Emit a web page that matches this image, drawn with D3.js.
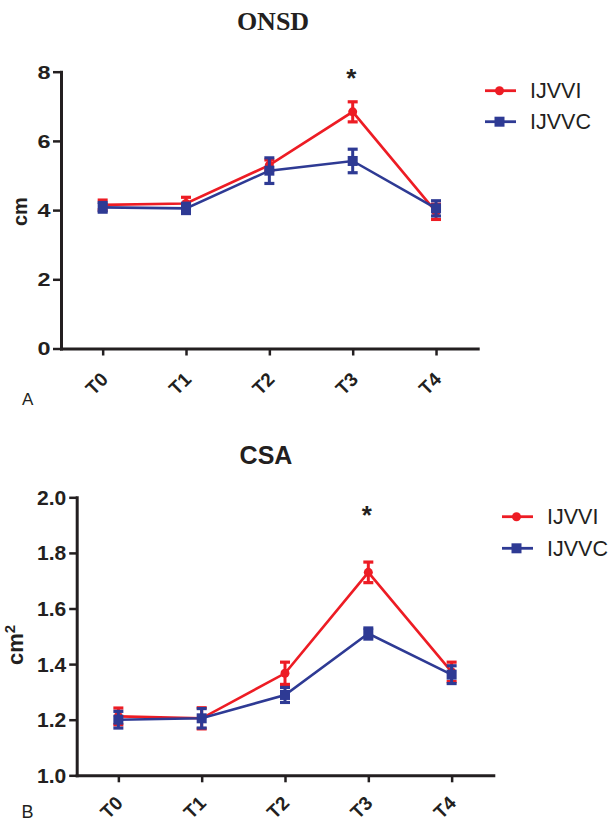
<!DOCTYPE html>
<html>
<head>
<meta charset="utf-8">
<script src="https://cdn.jsdelivr.net/npm/d3@7"></script>
<style>
  html, body { margin: 0; padding: 0; background: #fff; }
  svg { display: block; }
</style>
</head>
<body>
<svg id="chart" width="616" height="823"></svg>
<script>
// ---------- DATA ----------
const categories = ["T0", "T1", "T2", "T3", "T4"];
const seriesNames = ["IJVVI", "IJVVC"];

// Panel A: ONSD (cm)
const onsdIJVVI = [4.15, 4.19, 5.30, 6.84, 3.95];
const onsdIJVVIErr = [0.14, 0.18, 0.15, 0.29, 0.22];
const onsdIJVVC = [4.08, 4.05, 5.14, 5.42, 4.05];
const onsdIJVVCErr = [0.14, 0.15, 0.37, 0.34, 0.22];
const onsdTicks = [0, 2, 4, 6, 8];

// Panel B: CSA (cm2)
const csaIJVVI = [1.212, 1.205, 1.367, 1.730, 1.372];
const csaIJVVIErr = [0.030, 0.038, 0.040, 0.037, 0.035];
const csaIJVVC = [1.200, 1.205, 1.289, 1.510, 1.362];
const csaIJVVCErr = [0.030, 0.035, 0.027, 0.020, 0.032];
const csaTicks = [1.0, 1.2, 1.4, 1.6, 1.8, 2.0];

const significant = ["T3"];

// ---------- STYLE ----------
const RED = "#ed1c24";
const BLUE = "#2e3a94";
const INK = "#231f20";
const SANS = "'Liberation Sans', Arial, sans-serif";
const SERIF = "'Liberation Serif', 'Times New Roman', serif";

const svg = d3.select("#chart");

function drawPanel(cfg) {
  const g = svg.append("g");
  const x = d3.scalePoint().domain(categories).range(cfg.xRange).padding(0.5);
  const y = d3.scaleLinear().domain(cfg.yDomain).range(cfg.yRange);

  // title
  g.append("text")
    .attr("x", cfg.titleX).attr("y", cfg.titleY)
    .attr("text-anchor", "middle")
    .attr("font-family", cfg.titleFont)
    .attr("font-weight", "bold")
    .attr("font-size", cfg.titleSize)
    .attr("fill", INK)
    .text(cfg.title);

  // y axis
  const yAxis = g.append("g")
    .attr("transform", `translate(${cfg.xRange[0]},0)`)
    .call(d3.axisLeft(y).tickValues(cfg.ticks).tickFormat(cfg.tickFormat)
      .tickSize(cfg.yTickSize).tickSizeOuter(0).tickPadding(0));
  yAxis.select(".domain").attr("stroke", INK).attr("stroke-width", 3).attr("stroke-linecap", "square");
  yAxis.selectAll(".tick line").attr("stroke", INK).attr("stroke-width", 2.5);
  yAxis.selectAll(".tick text")
    .attr("x", 0).attr("dy", "0.36em")
    .attr("transform", `translate(${-cfg.yLabelOff},0) scale(${cfg.yStretch},1)`)
    .attr("font-family", SANS).attr("font-weight", "bold")
    .attr("font-size", cfg.yTickFont).attr("fill", INK);

  // x axis
  const xAxis = g.append("g")
    .attr("transform", `translate(0,${cfg.yRange[0]})`)
    .call(d3.axisBottom(x).tickSize(7).tickSizeOuter(0));
  xAxis.select(".domain").attr("stroke", INK).attr("stroke-width", 3).attr("stroke-linecap", "square");
  xAxis.selectAll(".tick line").attr("stroke", INK).attr("stroke-width", 2.5);
  xAxis.selectAll(".tick text")
    .attr("x", 0).attr("y", 0).attr("dy", null)
    .attr("text-anchor", "end")
    .attr("transform", `translate(${cfg.xLabelDx},${cfg.xLabelDy}) rotate(-45)`)
    .attr("font-family", SANS).attr("font-weight", "bold")
    .attr("font-size", cfg.xTickFont).attr("fill", INK);

  // y label
  const yl = g.append("text")
    .attr("transform", `translate(${cfg.yLabelX},${cfg.yLabelY}) rotate(-90)`)
    .attr("text-anchor", "start")
    .attr("font-family", SANS).attr("font-weight", "bold")
    .attr("font-size", cfg.yLabelSize).attr("fill", INK);
  yl.append("tspan").text("cm");
  if (cfg.squared) yl.append("tspan").attr("dy", -8).attr("font-size", 15).text("2");

  // panel letter
  g.append("text").attr("x", cfg.letterX).attr("y", cfg.letterY)
    .attr("font-family", SANS).attr("font-size", cfg.letterSize).attr("fill", INK)
    .text(cfg.letter);

  // series
  const series = [
    { name: seriesNames[0], vals: cfg.red, err: cfg.redErr, color: RED, shape: "circle" },
    { name: seriesNames[1], vals: cfg.blue, err: cfg.blueErr, color: BLUE, shape: "square" }
  ];
  const line = d3.line().x((d, i) => x(categories[i])).y(d => y(d));
  series.forEach(s => {
    const sg = g.append("g");
    sg.append("path").attr("d", line(s.vals))
      .attr("fill", "none").attr("stroke", s.color).attr("stroke-width", 2.6);
    const eb = sg.selectAll(".eb").data(s.vals).enter().append("g");
    eb.append("line")
      .attr("x1", (d, i) => x(categories[i])).attr("x2", (d, i) => x(categories[i]))
      .attr("y1", (d, i) => y(d + s.err[i])).attr("y2", (d, i) => y(d - s.err[i]))
      .attr("stroke", s.color).attr("stroke-width", 3);
    [1, -1].forEach(sign => {
      eb.append("line")
        .attr("x1", (d, i) => x(categories[i]) - 5).attr("x2", (d, i) => x(categories[i]) + 5)
        .attr("y1", (d, i) => y(d + sign * s.err[i])).attr("y2", (d, i) => y(d + sign * s.err[i]))
        .attr("stroke", s.color).attr("stroke-width", 3.2);
    });
    if (s.shape === "circle") {
      sg.selectAll(".m").data(s.vals).enter().append("circle")
        .attr("cx", (d, i) => x(categories[i])).attr("cy", d => y(d))
        .attr("r", 4.5).attr("fill", s.color);
    } else {
      sg.selectAll(".m").data(s.vals).enter().append("rect")
        .attr("x", (d, i) => x(categories[i]) - 5).attr("y", d => y(d) - 5)
        .attr("width", 10).attr("height", 10).attr("fill", s.color);
    }
  });

  // significance
  significant.forEach(c => {
    g.append("text").attr("x", x(c) - 1.5).attr("y", cfg.starY)
      .attr("text-anchor", "middle")
      .attr("font-family", SANS).attr("font-weight", "bold")
      .attr("font-size", 26).attr("fill", INK).text("*");
  });

  // legend
  series.forEach((s, k) => {
    const ly = cfg.legY[k];
    const lx = cfg.legX;
    g.append("line").attr("x1", lx).attr("x2", lx + 31).attr("y1", ly).attr("y2", ly)
      .attr("stroke", s.color).attr("stroke-width", 2.8);
    if (s.shape === "circle") {
      g.append("circle").attr("cx", lx + 14.5).attr("cy", ly).attr("r", 4.5).attr("fill", s.color);
    } else {
      g.append("rect").attr("x", lx + 9.5).attr("y", ly - 5).attr("width", 10).attr("height", 10).attr("fill", s.color);
    }
    g.append("text").attr("x", lx + 45).attr("y", ly + 7.6)
      .attr("font-family", SANS).attr("font-size", 21.5).attr("fill", INK)
      .text(s.name);
  });
}

drawPanel({
  title: "ONSD", titleFont: SERIF, titleSize: 26, titleX: 273, titleY: 30,
  xRange: [61, 477.7], yDomain: [0, 8], yRange: [348.5, 71.7],
  ticks: onsdTicks, tickFormat: d3.format("d"), yTickSize: 8, yLabelOff: 10.5,
  yStretch: 1.3, yTickFont: 18,
  xLabelDx: 6, xLabelDy: 32, xTickFont: 19,
  yLabelX: 27, yLabelY: 226, yLabelSize: 20, squared: false,
  letter: "A", letterX: 22, letterY: 405, letterSize: 17,
  red: onsdIJVVI, redErr: onsdIJVVIErr, blue: onsdIJVVC, blueErr: onsdIJVVCErr,
  starY: 86.5, legX: 485, legY: [90.7, 121.7]
});

drawPanel({
  title: "CSA", titleFont: SANS, titleSize: 25, titleX: 266, titleY: 464,
  xRange: [76.7, 493.3], yDomain: [1.0, 2.0], yRange: [775.3, 497.3],
  ticks: csaTicks, tickFormat: d3.format(".1f"), yTickSize: 7.5, yLabelOff: 10.5,
  yStretch: 1.08, yTickFont: 19.5,
  xLabelDx: 5, xLabelDy: 29, xTickFont: 19,
  yLabelX: 22.5, yLabelY: 665, yLabelSize: 22, squared: true,
  letter: "B", letterX: 21.5, letterY: 818, letterSize: 18,
  red: csaIJVVI, redErr: csaIJVVIErr, blue: csaIJVVC, blueErr: csaIJVVCErr,
  starY: 523.5, legX: 502, legY: [516.7, 548.3]
});
</script>
</body>
</html>
